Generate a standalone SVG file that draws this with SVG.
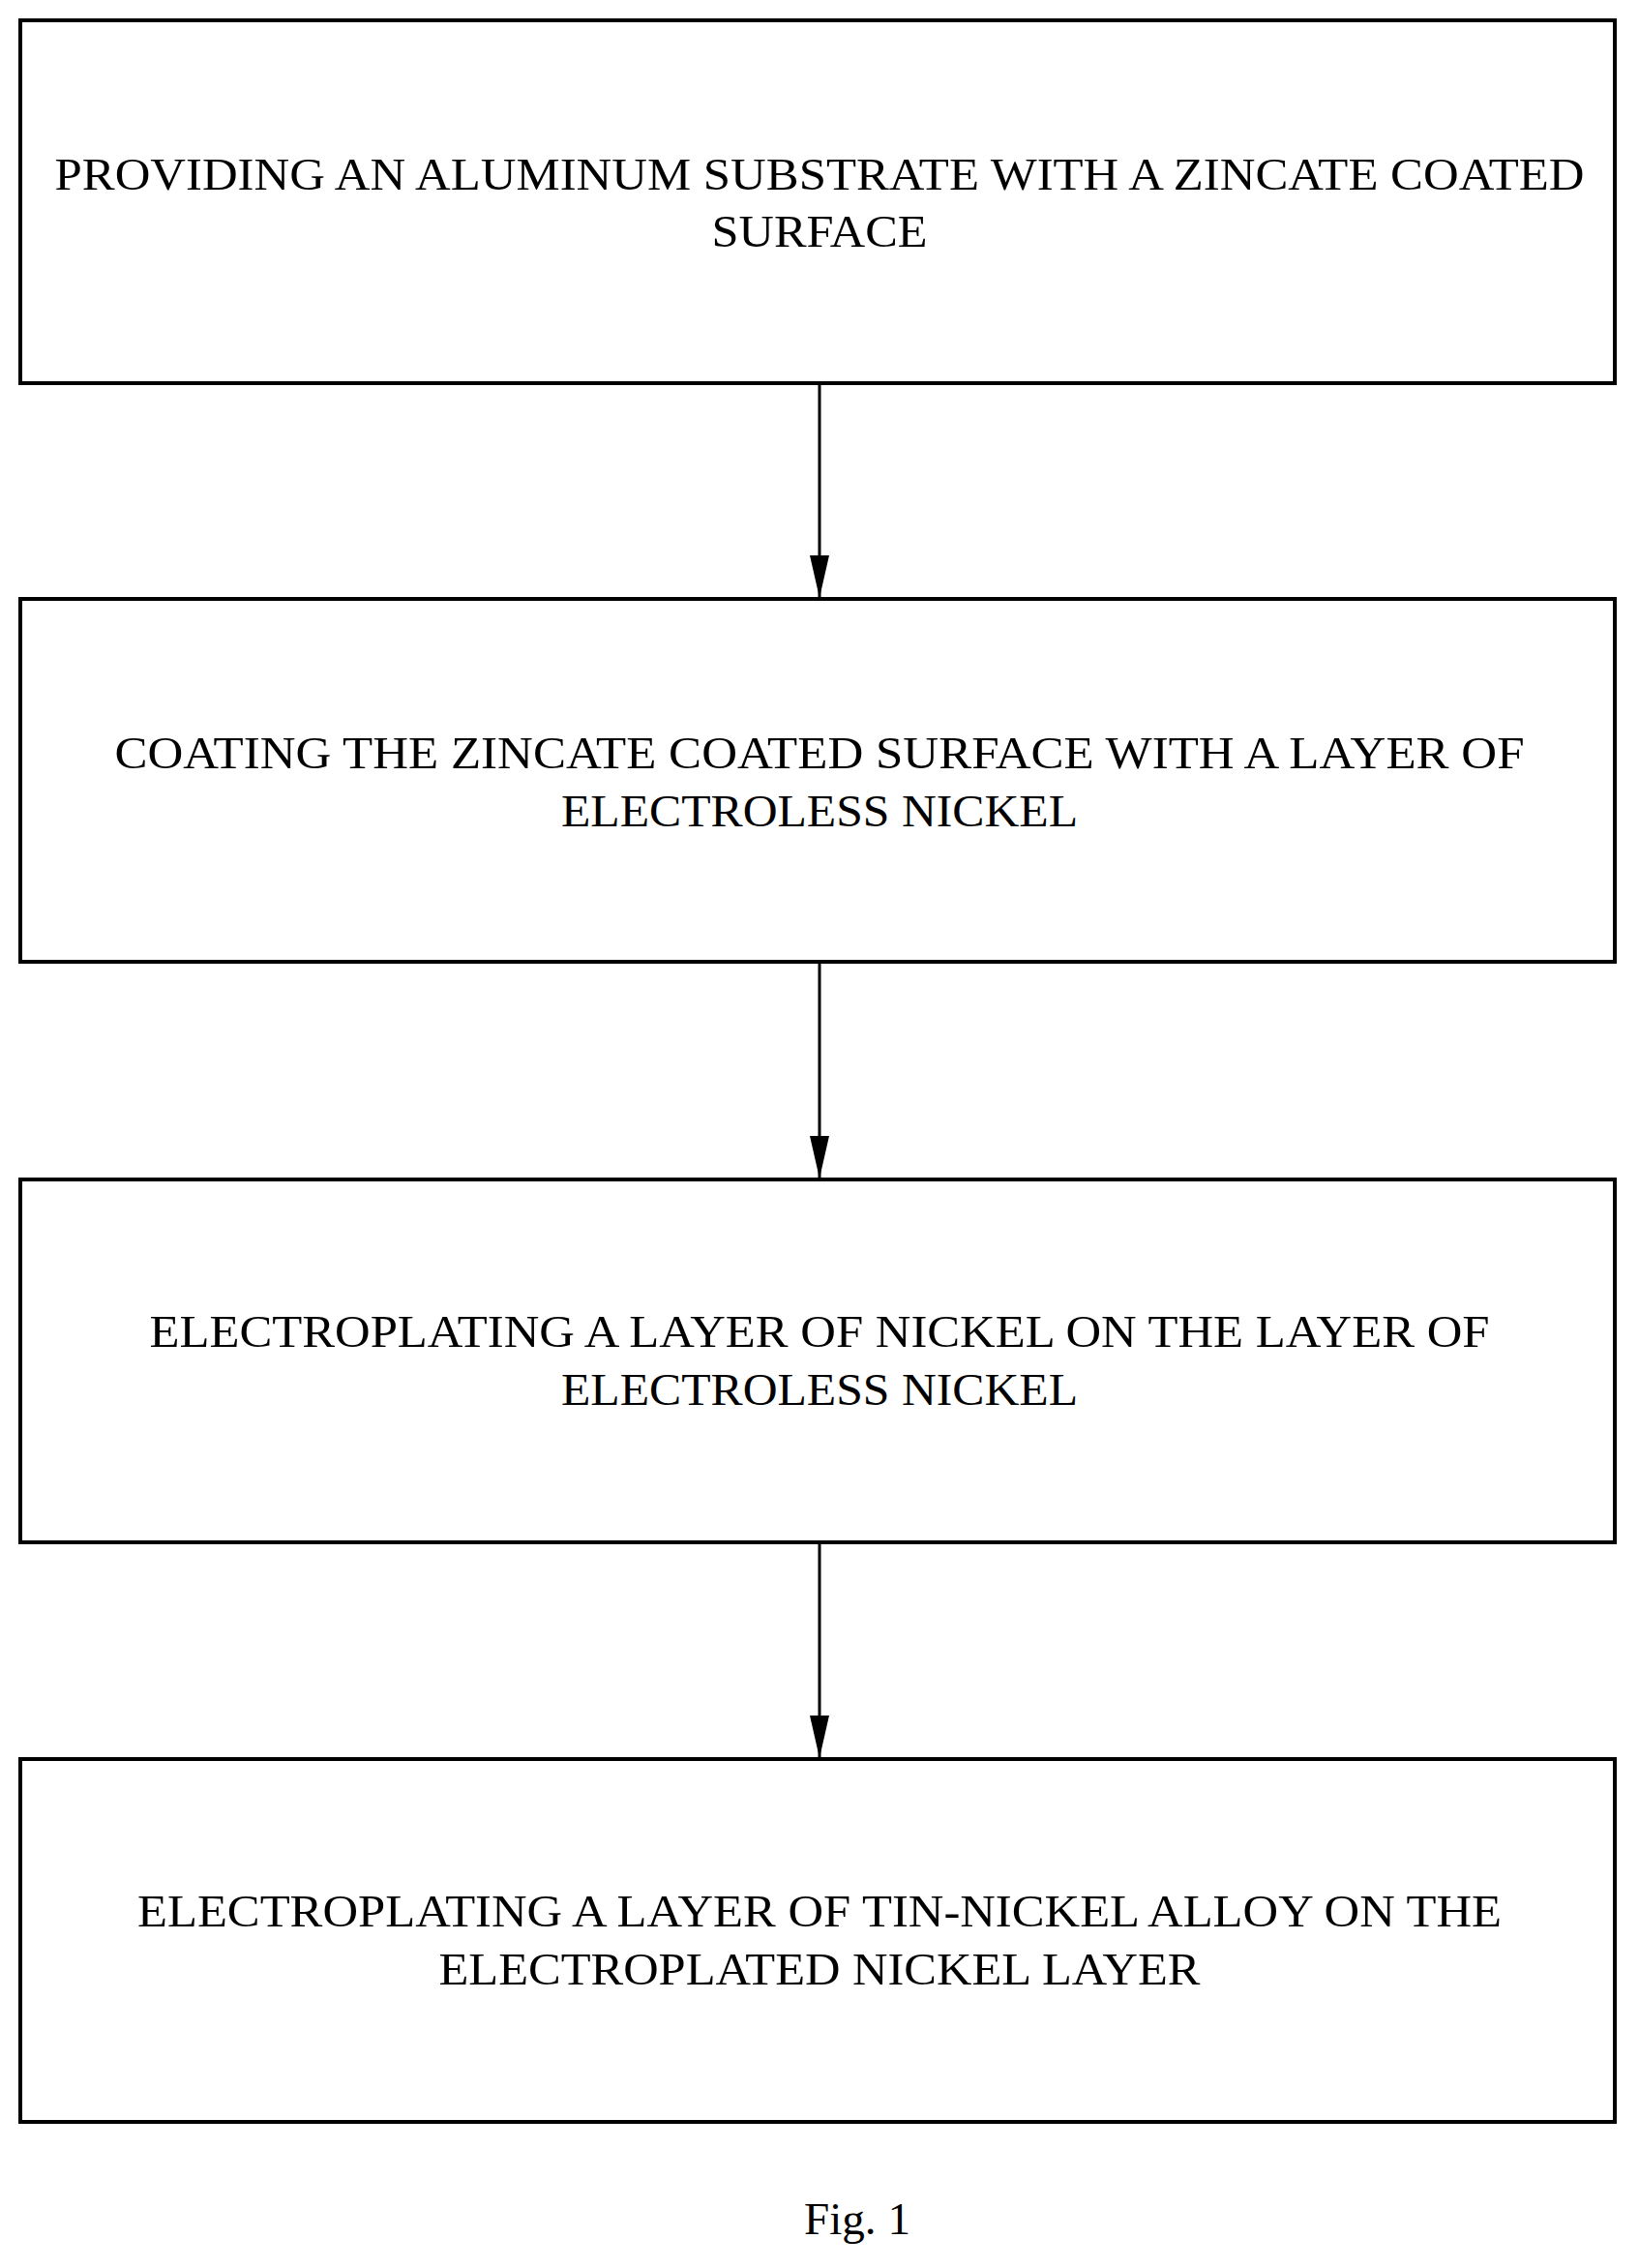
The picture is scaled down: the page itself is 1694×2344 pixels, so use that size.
<svg xmlns="http://www.w3.org/2000/svg" width="1694" height="2344" viewBox="0 0 1694 2344">
<style>
rect.box{fill:#fff;stroke:#000;stroke-width:4}
text{font-family:"Liberation Serif","Times New Roman",serif;font-size:46px;fill:#000;text-anchor:middle}
line.c{stroke:#000;stroke-width:3}
</style>
<defs><marker id="ah" markerUnits="userSpaceOnUse" markerWidth="44" markerHeight="20" refX="44" refY="10" orient="auto" viewBox="0 0 44 20"><path d="M0,0 L44,10 L0,20 Z" fill="#000"/></marker></defs>
<rect width="1694" height="2344" fill="#fff"/>
<g id="connectors">
<line class="c" x1="847" y1="396" x2="847" y2="618" marker-end="url(#ah)"/>
<line class="c" x1="847" y1="994" x2="847" y2="1218" marker-end="url(#ah)"/>
<line class="c" x1="847" y1="1594" x2="847" y2="1817" marker-end="url(#ah)"/>
</g>
<g id="n1"><rect class="box" x="21" y="21" width="1648" height="375"/>
<text x="847" y="196" textLength="1581" lengthAdjust="spacingAndGlyphs">PROVIDING AN ALUMINUM SUBSTRATE WITH A ZINCATE COATED</text>
<text x="847" y="255" textLength="223" lengthAdjust="spacingAndGlyphs">SURFACE</text></g>
<g id="n2"><rect class="box" x="21" y="619" width="1648" height="375"/>
<text x="847" y="794" textLength="1457" lengthAdjust="spacingAndGlyphs">COATING THE ZINCATE COATED SURFACE WITH A LAYER OF</text>
<text x="847" y="854" textLength="534" lengthAdjust="spacingAndGlyphs">ELECTROLESS NICKEL</text></g>
<g id="n3"><rect class="box" x="21" y="1219" width="1648" height="375"/>
<text x="847" y="1392" textLength="1385" lengthAdjust="spacingAndGlyphs">ELECTROPLATING A LAYER OF NICKEL ON THE LAYER OF</text>
<text x="847" y="1452" textLength="534" lengthAdjust="spacingAndGlyphs">ELECTROLESS NICKEL</text></g>
<g id="n4"><rect class="box" x="21" y="1818" width="1648" height="375"/>
<text x="847" y="1991" textLength="1410" lengthAdjust="spacingAndGlyphs">ELECTROPLATING A LAYER OF TIN-NICKEL ALLOY ON THE</text>
<text x="847" y="2051" textLength="787" lengthAdjust="spacingAndGlyphs">ELECTROPLATED NICKEL LAYER</text></g>
<g id="caption"><text x="886" y="2309" textLength="110" lengthAdjust="spacingAndGlyphs">Fig. 1</text></g>
</svg>
